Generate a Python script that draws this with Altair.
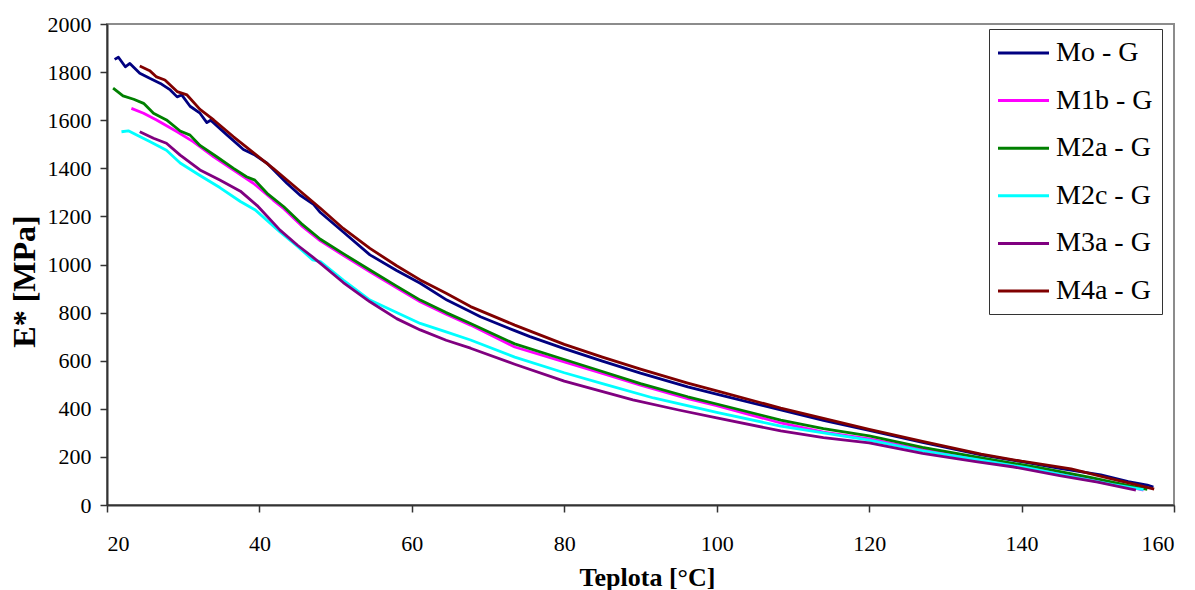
import altair as alt
import pandas as pd

SERIES = ["Mo - G", "M1b - G", "M2a - G", "M2c - G", "M3a - G", "M4a - G"]
COLORS = ["#000080", "#FF00FF", "#008000", "#00FFFF", "#800080", "#800000"]

X_TICKS = [20, 40, 60, 80, 100, 120, 140, 160]
Y_TICKS = [0, 200, 400, 600, 800, 1000, 1200, 1400, 1600, 1800, 2000]

# Mo - G
mo_t = [21.0, 21.5, 22.4, 23.0, 24.3, 25.6, 27.0, 28.3, 29.2, 29.8, 30.9, 32.2, 33.1, 33.6,
        35.7, 37.9, 39.4, 41.0, 43.6, 45.3, 47.1, 48.0, 51.0, 54.5, 58.0, 61.1, 64.6, 67.7,
        69.0, 73.5, 75.5, 80, 85, 90, 96.2, 100.5, 108.4, 114, 120, 127, 134.7, 140, 145,
        150.4, 154, 156.5, 157.3]
mo_e = [1853, 1862, 1822, 1836, 1795, 1774, 1753, 1726, 1697, 1705, 1658, 1629, 1590, 1600,
        1540, 1478, 1455, 1421, 1338, 1289, 1250, 1216, 1135, 1040, 975, 922, 852, 804,
        783, 725, 700, 650, 598, 548, 491, 457, 395, 352, 310, 260, 208, 180, 152,
        125, 97, 83, 75]

# M1b - G
m1b_t = [23.2, 24.8, 26.5, 29.2, 31.3, 34.0, 36.6, 39.2, 41.8, 43.2, 45.5, 48.0, 51.0, 54.5,
         58.0, 61.1, 64.5, 67.7, 73.5, 80, 85, 90, 96.2, 100, 108.4, 114, 120, 127,
         134, 142.5, 149, 153, 156]
m1b_e = [1649, 1629, 1601, 1552, 1511, 1448, 1393, 1338, 1268, 1232, 1162, 1098, 1038, 970,
         903, 845, 793, 748, 657, 595, 547, 498, 442, 413, 341, 303, 275, 230,
         192, 147, 110, 85, 62]

# M2a - G
m2a_t = [20.8, 22.1, 23.5, 24.8, 26.1, 27.8, 29.6, 30.9, 32.2, 34.4, 36.6, 38.3, 39.4, 41.0,
         43.2, 45.5, 48.0, 51.0, 54.5, 58.0, 61.1, 64.5, 67.7, 73.5, 80, 85, 90, 96.2,
         100, 108.4, 114, 120, 127, 134, 142.5, 149, 153, 156.5]
m2a_e = [1733, 1701, 1687, 1670, 1629, 1601, 1555, 1538, 1495, 1448, 1400, 1365, 1351, 1296,
         1240, 1170, 1105, 1045, 977, 910, 852, 800, 755, 670, 605, 555, 505, 450,
         420, 353, 318, 287, 240, 200, 154, 115, 88, 65]

# M2c - G
m2c_t = [21.9, 22.8, 23.9, 25.6, 27.8, 29.6, 32.2, 34.8, 37.5, 39.4, 42.7, 45.0, 47.0, 48.0,
         51.0, 54.5, 58.0, 61.1, 64.5, 67.7, 73.5, 80, 85, 91.7, 100, 108.4, 114, 120,
         127, 134, 140.8, 147, 152, 156]
m2c_e = [1552, 1556, 1538, 1511, 1475, 1422, 1370, 1320, 1262, 1228, 1135, 1075, 1019, 1012,
         935, 852, 800, 755, 720, 686, 615, 550, 505, 445, 385, 328, 300, 270,
         225, 190, 154, 115, 85, 64]

# M3a - G
m3a_t = [24.3, 26.1, 27.8, 29.6, 32.2, 34.8, 37.5, 39.7, 42.7, 45.0, 47.0, 48.0, 51.0, 54.5,
         58.0, 61.1, 64.5, 67.7, 73.5, 80, 89, 95, 100, 108.4, 114, 120, 127, 134,
         139, 145, 150, 155]
m3a_e = [1552, 1525, 1504, 1455, 1393, 1351, 1305, 1245, 1143, 1080, 1031, 1005, 925, 845,
         775, 728, 685, 652, 585, 515, 437, 395, 362, 308, 280, 258, 215, 180,
         158, 122, 95, 62]

# M4a - G
m4a_t = [24.3, 25.6, 26.5, 27.6, 29.2, 30.5, 32.2, 34.0, 36.6, 39.2, 41.8, 44.9, 48.0, 51.0,
         54.5, 58.0, 61.1, 64.5, 67.7, 73.5, 80, 85, 90, 96.2, 100.5, 108.4, 114, 120,
         127, 134.7, 140, 146.5, 151, 155, 157.4]
m4a_e = [1825, 1806, 1780, 1767, 1719, 1705, 1645, 1601, 1531, 1465, 1400, 1317, 1234, 1150,
         1067, 995, 936, 880, 825, 748, 668, 615, 565, 507, 470, 403, 360, 314,
         265, 212, 182, 150, 115, 85, 66]

groups = [
    ("Mo - G", mo_t, mo_e),
    ("M1b - G", m1b_t, m1b_e),
    ("M2a - G", m2a_t, m2a_e),
    ("M2c - G", m2c_t, m2c_e),
    ("M3a - G", m3a_t, m3a_e),
    ("M4a - G", m4a_t, m4a_e),
]
rows = []
for name, ts, es in groups:
    for t, e in zip(ts, es):
        rows.append({"series": name, "T": t, "E": e})
df = pd.DataFrame(rows)

FONT = "Liberation Serif"

chart = alt.Chart(df).mark_line(strokeWidth=2.8, strokeJoin="round").encode(
    x=alt.X(
        "T:Q",
        scale=alt.Scale(domain=[20, 160], nice=False, zero=False),
        axis=alt.Axis(
            values=X_TICKS, format="d", title="Teplota [°C]",
            labelFont=FONT, labelFontSize=22, labelPadding=21,
            titleFont=FONT, titleFontSize=26, titleFontWeight="bold",
            titleX=540, titleY=72, titleBaseline="middle", titleAnchor="middle",
        ),
    ),
    y=alt.Y(
        "E:Q",
        scale=alt.Scale(domain=[0, 2000], nice=False),
        axis=alt.Axis(
            values=Y_TICKS, format="d", title="E* [MPa]",
            labelFont=FONT, labelFontSize=22, labelPadding=9,
            titleFont=FONT, titleFontSize=32, titleFontWeight="bold",
            titleX=-83, titleY=257, titleAngle=270, titleBaseline="middle",
            titleAnchor="middle",
        ),
    ),
    color=alt.Color(
        "series:N",
        sort=SERIES,
        scale=alt.Scale(domain=SERIES, range=COLORS),
        legend=alt.Legend(
            title=None, orient="none", legendX=882, legendY=5,
            symbolType="M-1.111,0L2.667,0", symbolSize=729, symbolStrokeWidth=3,
            labelFontSize=28, labelFont=FONT, labelOffset=28, labelColor="black",
            padding=9, rowPadding=18.6, strokeColor="#333", fillColor="white",
        ),
    ),
).properties(
    width=1067, height=481, autosize="none",
    padding={"left": 107, "top": 24, "right": 21, "bottom": 85},
).configure(
    background="white",
).configure_view(
    stroke="#8c8c8c", strokeWidth=2,
).configure_axis(
    grid=False, labelColor="black", titleColor="black",
    domainColor="#333", domainWidth=2, tickColor="#333", tickWidth=1.5, tickSize=7,
    zindex=1,
)

chart.save("out.html", embed_options={"renderer": "svg", "actions": False})
